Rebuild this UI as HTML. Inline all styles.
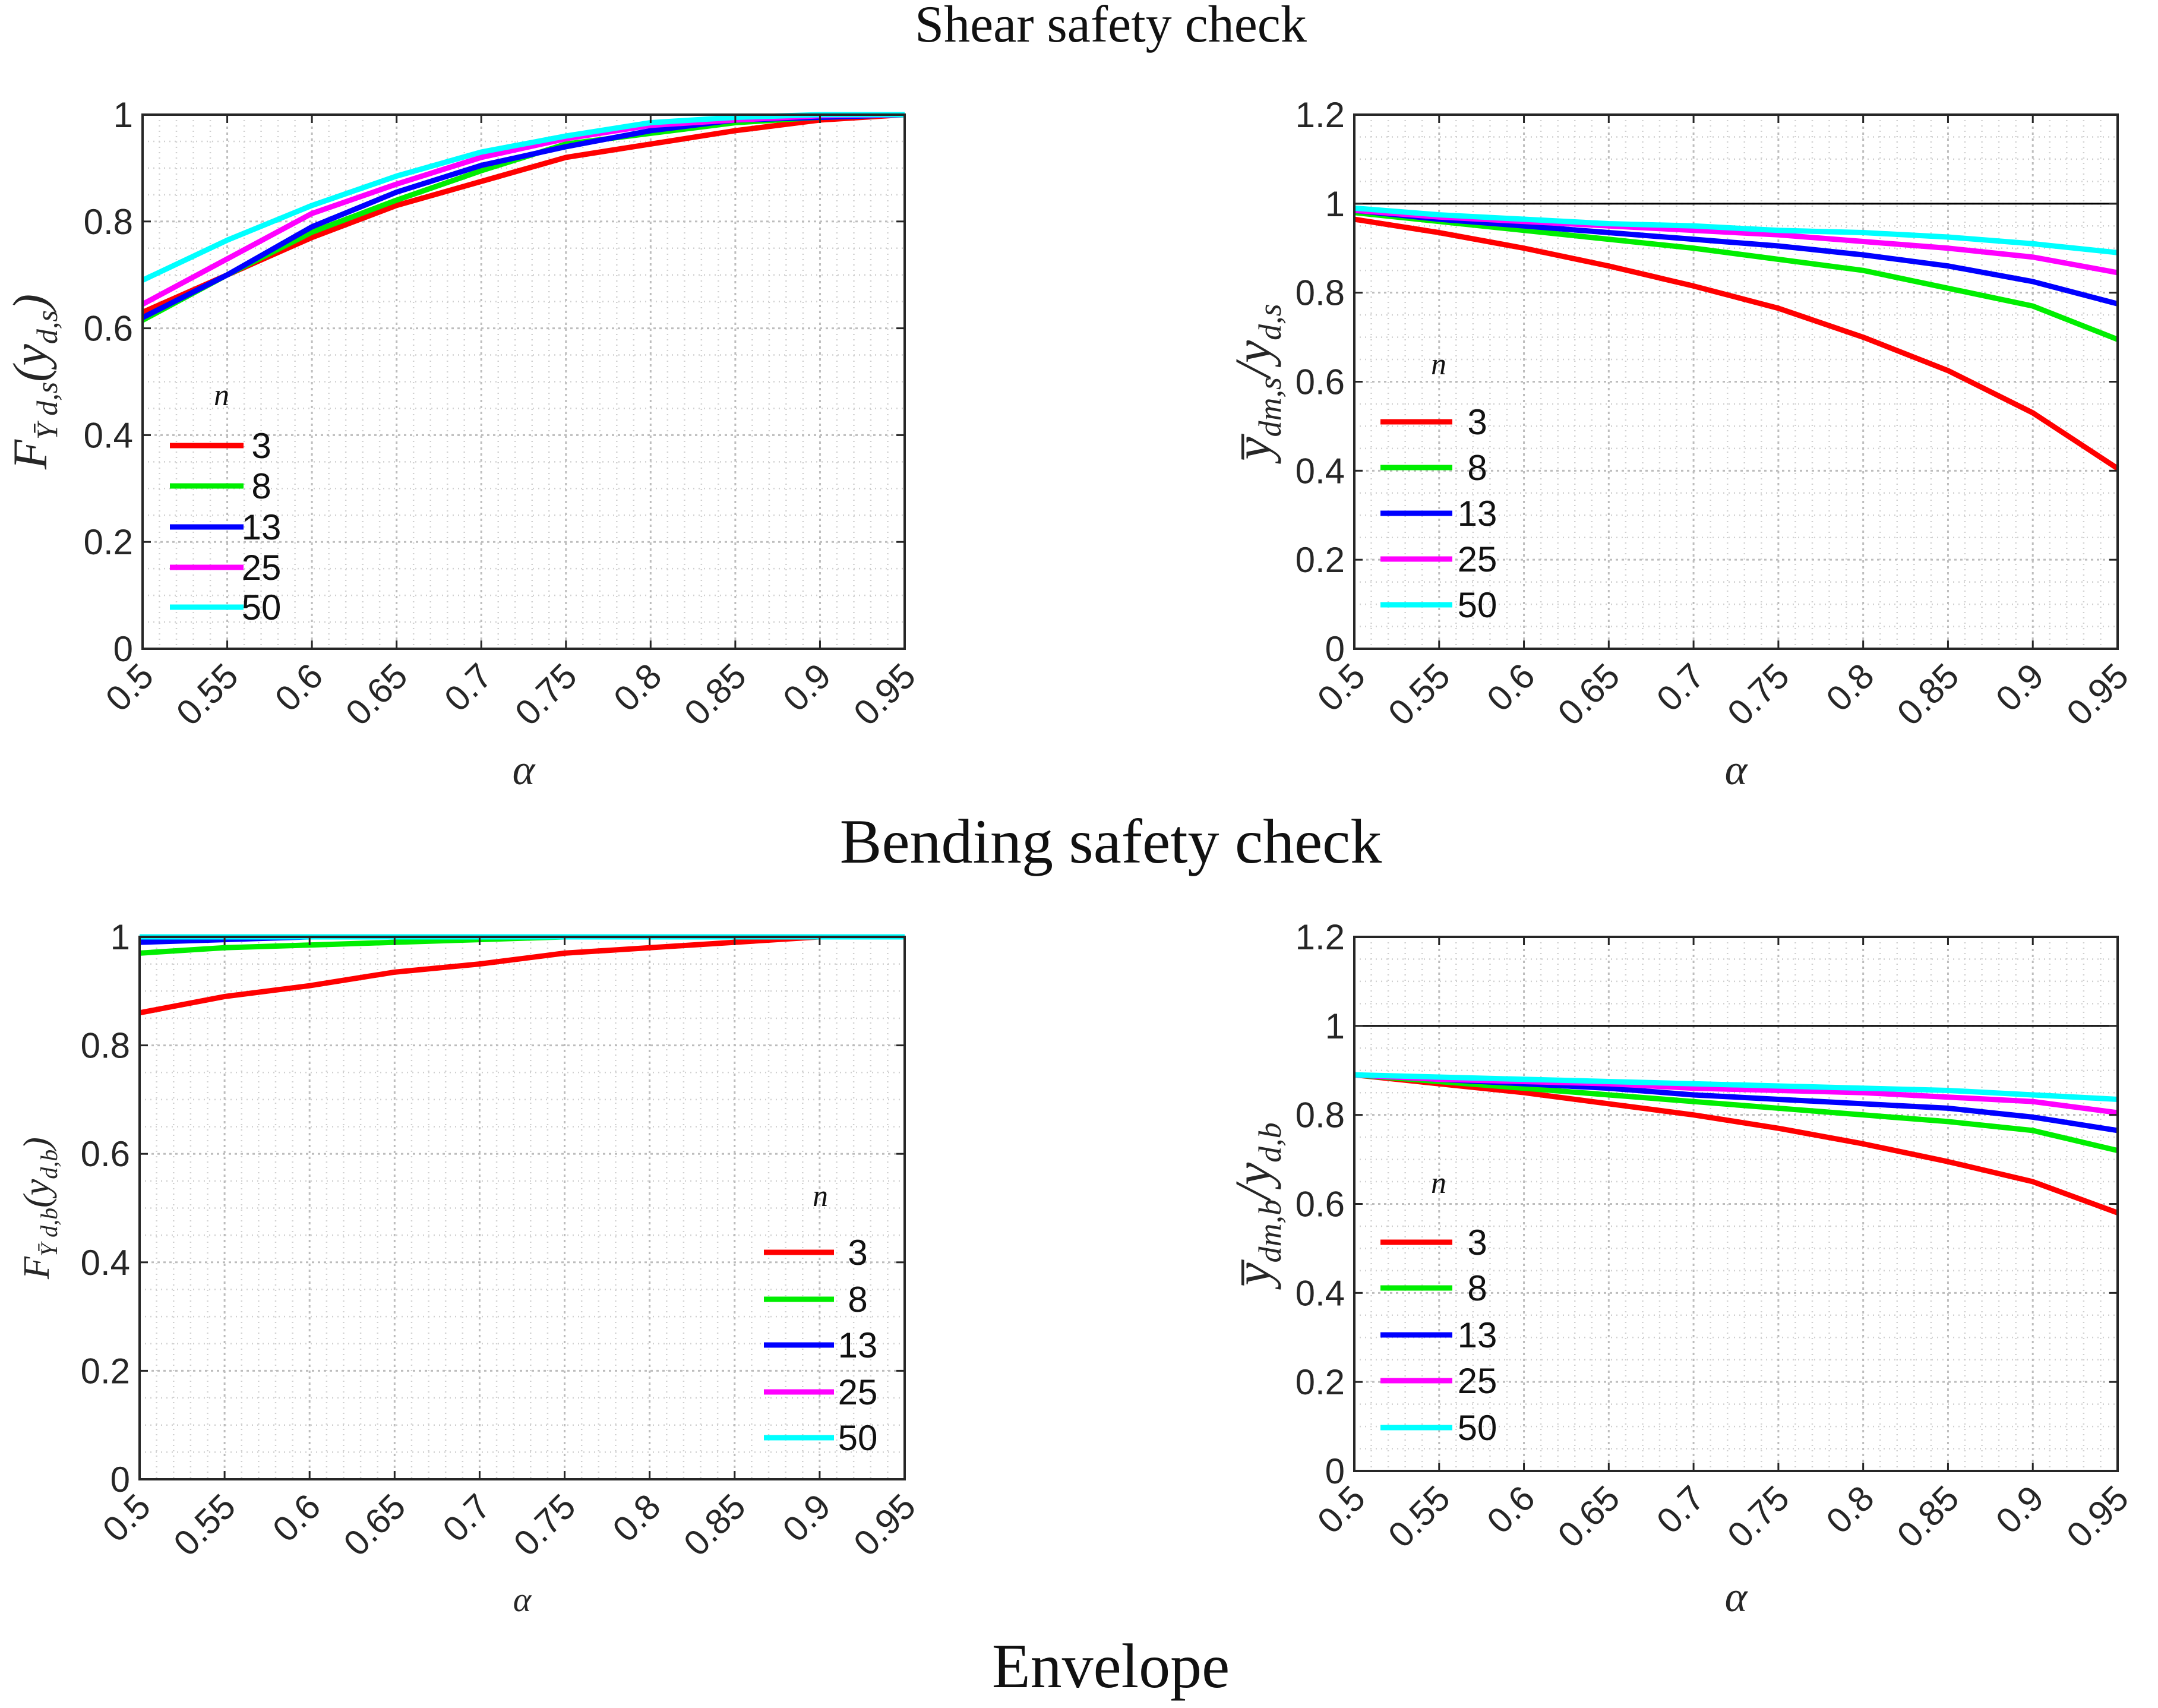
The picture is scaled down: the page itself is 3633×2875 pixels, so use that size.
<!DOCTYPE html>
<html><head><meta charset="utf-8"><style>
html,body{margin:0;padding:0;background:#fff;width:3633px;height:2875px;overflow:hidden}
svg{display:block}
</style></head><body>
<svg id="fig" width="3633" height="2875" viewBox="0 0 3633 2875" xmlns="http://www.w3.org/2000/svg">
<text x="1870" y="70" font-family="Liberation Serif, serif" font-size="88" text-anchor="middle" fill="#111">Shear safety check</text>
<text x="1870" y="1452" font-family="Liberation Serif, serif" font-size="106" text-anchor="middle" fill="#111">Bending safety check</text>
<text x="1870" y="2840" font-family="Liberation Serif, serif" font-size="106" text-anchor="middle" fill="#111">Envelope</text>
</svg>
<script>
const alphaValues = [0.5,0.55,0.6,0.65,0.7,0.75,0.8,0.85,0.9,0.95];
const xTickLabels = ["0.5","0.55","0.6","0.65","0.7","0.75","0.8","0.85","0.9","0.95"];
const seriesNames = ["3","8","13","25","50"];
const seriesColors = ["#ff0000","#00ee00","#0000ff","#ff00ff","#00ffff"];

const shearCdfN3  = [0.63,0.70,0.77,0.83,0.875,0.92,0.945,0.97,0.99,1.0];
const shearCdfN8  = [0.615,0.70,0.78,0.84,0.895,0.945,0.965,0.985,0.995,1.0];
const shearCdfN13 = [0.62,0.70,0.79,0.855,0.905,0.94,0.97,0.99,0.995,1.0];
const shearCdfN25 = [0.645,0.73,0.815,0.87,0.92,0.955,0.98,0.99,0.998,1.0];
const shearCdfN50 = [0.69,0.765,0.83,0.885,0.93,0.96,0.985,0.995,1.0,1.0];

const shearRatioN3  = [0.965,0.935,0.90,0.86,0.815,0.765,0.70,0.625,0.53,0.405];
const shearRatioN8  = [0.98,0.96,0.94,0.92,0.90,0.875,0.85,0.81,0.77,0.695];
const shearRatioN13 = [0.985,0.965,0.95,0.935,0.92,0.905,0.885,0.86,0.825,0.775];
const shearRatioN25 = [0.985,0.97,0.96,0.95,0.94,0.93,0.915,0.90,0.88,0.845];
const shearRatioN50 = [0.99,0.975,0.965,0.955,0.95,0.94,0.935,0.925,0.91,0.89];

const bendCdfN3  = [0.86,0.89,0.91,0.935,0.95,0.97,0.98,0.99,1.0,1.0];
const bendCdfN8  = [0.97,0.98,0.985,0.99,0.995,1.0,1.0,1.0,1.0,1.0];
const bendCdfN13 = [0.99,0.995,1.0,1.0,1.0,1.0,1.0,1.0,1.0,1.0];
const bendCdfN25 = [1.0,1.0,1.0,1.0,1.0,1.0,1.0,1.0,1.0,1.0];
const bendCdfN50 = [1.0,1.0,1.0,1.0,1.0,1.0,1.0,1.0,1.0,1.0];

const bendRatioN3  = [0.89,0.87,0.85,0.825,0.80,0.77,0.735,0.695,0.65,0.58];
const bendRatioN8  = [0.89,0.875,0.86,0.845,0.83,0.815,0.80,0.785,0.765,0.72];
const bendRatioN13 = [0.89,0.88,0.87,0.86,0.845,0.835,0.825,0.815,0.795,0.765];
const bendRatioN25 = [0.89,0.88,0.875,0.87,0.86,0.855,0.85,0.84,0.83,0.805];
const bendRatioN50 = [0.89,0.885,0.88,0.875,0.87,0.865,0.86,0.855,0.845,0.835];

const yTicks1 = ["0","0.2","0.4","0.6","0.8","1"];
const yTicks12 = ["0","0.2","0.4","0.6","0.8","1","1.2"];

const NS="http://www.w3.org/2000/svg";
const svg=document.getElementById('fig');
function mk(tag,attrs,parent){const e=document.createElementNS(NS,tag);for(const k in attrs)e.setAttribute(k,attrs[k]);(parent||svg).appendChild(e);return e;}

function panel(cfg){
  const g=mk('g',{});
  
  
  const L=cfg.L,R=cfg.R,T=cfg.T,B=cfg.B,ymax=cfg.ymax;
  const xs=v=>L+(v-0.5)/(0.45)*(R-L);
  const ys=v=>B-v/ymax*(B-T);
  for(let i=1;i<45;i++){ if(i%5===0)continue; const v=0.5+i*0.01;
    mk('line',{x1:xs(v),x2:xs(v),y1:T,y2:B,stroke:'#d0d0d0','stroke-width':2.5,'stroke-dasharray':'2 7'},g);}
  for(let v=0.05;v<ymax-0.001;v+=0.05){ if(Math.abs(v/0.2-Math.round(v/0.2))<0.01)continue;
    mk('line',{x1:L,x2:R,y1:ys(v),y2:ys(v),stroke:'#d0d0d0','stroke-width':2.5,'stroke-dasharray':'2 7'},g);}
  alphaValues.forEach(v=>mk('line',{x1:xs(v),x2:xs(v),y1:T,y2:B,stroke:'#bdbdbd','stroke-width':3,'stroke-dasharray':'4 6'},g));
  cfg.yt.forEach(t=>{const v=parseFloat(t);mk('line',{x1:L,x2:R,y1:ys(v),y2:ys(v),stroke:'#bdbdbd','stroke-width':3,'stroke-dasharray':'4 6'},g);});
  if(cfg.refLine){const r=mk('line',{x1:L,x2:R,y1:ys(1),y2:ys(1),stroke:'#000','stroke-width':3},g);
    
    }
  cfg.series.forEach((arr,i)=>{
    const p=mk('polyline',{points:arr.map((v,j)=>xs(alphaValues[j])+','+ys(v)).join(' '),fill:'none',stroke:seriesColors[i],'stroke-width':9,'stroke-linejoin':'round'},g);
    
    
  });
  mk('rect',{x:L,y:T,width:R-L,height:B-T,fill:'none',stroke:'#262626','stroke-width':4},g);
  alphaValues.forEach((v,i)=>{
    mk('line',{x1:xs(v),x2:xs(v),y1:B,y2:B-14,stroke:'#262626','stroke-width':3},g);
    mk('line',{x1:xs(v),x2:xs(v),y1:T,y2:T+14,stroke:'#262626','stroke-width':3},g);
    const ax=xs(v)+22, ay=B+50;
    const t=mk('text',{x:ax,y:ay,'font-family':'Liberation Sans, sans-serif','font-size':60,'text-anchor':'end',fill:'#262626',transform:`rotate(-45 ${ax} ${ay})`},g);
    t.textContent=xTickLabels[i];
    
    
  });
  cfg.yt.forEach(s=>{const v=parseFloat(s);
    mk('line',{x1:L,x2:L+14,y1:ys(v),y2:ys(v),stroke:'#262626','stroke-width':3},g);
    mk('line',{x1:R,x2:R-14,y1:ys(v),y2:ys(v),stroke:'#262626','stroke-width':3},g);
    const t=mk('text',{x:L-16,y:ys(v)+21,'font-family':'Liberation Sans, sans-serif','font-size':60,'text-anchor':'end',fill:'#262626'},g);
    t.textContent=s;
    
    
  });
  const xl=mk('text',{x:(L+R)/2,y:cfg.xlY,'font-family':'Liberation Serif, serif','font-style':'italic','font-size':cfg.xlSize,'text-anchor':'middle',fill:'#262626'},g);
  xl.textContent='α';
  
  
  const yl=mk('text',{x:cfg.ylX,y:(T+B)/2,'font-family':'Liberation Serif, serif','font-style':'italic','font-size':cfg.ylSize,'text-anchor':'middle',fill:'#262626',transform:`rotate(-90 ${cfg.ylX} ${(T+B)/2})`},g);
  yl.innerHTML=cfg.ylab;
  
  
  const lg=mk('g',{},g);
  
  
  const nt=mk('text',{x:cfg.lg.nx,y:cfg.lg.ny,'font-family':'Liberation Serif, serif','font-style':'italic','font-size':52,'text-anchor':'middle',fill:'#111'},lg);
  nt.textContent='n';
  
  
  seriesNames.forEach((n,i)=>{
    const y=cfg.lg.rows[i];
    const e=mk('g',{},lg);
    
    
    mk('line',{x1:cfg.lg.x1,x2:cfg.lg.x2,y1:y,y2:y,stroke:seriesColors[i],'stroke-width':9},e);
    const t=mk('text',{x:cfg.lg.tx,y:y+21,'font-family':'Liberation Sans, sans-serif','font-size':60,'text-anchor':'middle',fill:'#111'},e);
    t.textContent=n;
  });
}

panel({name:'shear-cdf-panel',L:240,R:1523,T:193,B:1092,ymax:1,yt:yTicks1,
  series:[shearCdfN3,shearCdfN8,shearCdfN13,shearCdfN25,shearCdfN50],
  xlY:1320,xlSize:72,ylX:78,ylSize:82,
  ylab:'F<tspan font-size="50" dy="18">Ȳ d,s</tspan><tspan dy="-18">(y</tspan><tspan font-size="50" dy="18">d,s</tspan><tspan dy="-18">)</tspan>',
  lg:{nx:373,ny:682,x1:286,x2:410,tx:440,rows:[750,818,887,955,1022]}});
panel({name:'shear-ratio-panel',L:2280,R:3565,T:193,B:1092,ymax:1.2,yt:yTicks12,refLine:true,
  series:[shearRatioN3,shearRatioN8,shearRatioN13,shearRatioN25,shearRatioN50],
  xlY:1320,xlSize:72,ylX:2138,ylSize:86,
  ylab:'y̅<tspan font-size="54" dy="18">dm,s</tspan><tspan dy="-18">/y</tspan><tspan font-size="54" dy="18">d,s</tspan>',
  lg:{nx:2422,ny:630,x1:2324,x2:2445,tx:2487,rows:[710,787,864,941,1018]}});
panel({name:'bending-cdf-panel',L:235,R:1523,T:1577,B:2490,ymax:1,yt:yTicks1,
  series:[bendCdfN3,bendCdfN8,bendCdfN13,bendCdfN25,bendCdfN50],
  xlY:2712,xlSize:58,ylX:82,ylSize:62,
  ylab:'F<tspan font-size="40" dy="14">Ȳ d,b</tspan><tspan dy="-14">(y</tspan><tspan font-size="40" dy="14">d,b</tspan><tspan dy="-14">)</tspan>',
  lg:{nx:1381,ny:2030,x1:1286,x2:1404,tx:1444,rows:[2108,2187,2264,2343,2420]}});
panel({name:'bending-ratio-panel',L:2280,R:3565,T:1577,B:2476,ymax:1.2,yt:yTicks12,refLine:true,
  series:[bendRatioN3,bendRatioN8,bendRatioN13,bendRatioN25,bendRatioN50],
  xlY:2712,xlSize:72,ylX:2138,ylSize:86,
  ylab:'y̅<tspan font-size="54" dy="18">dm,b</tspan><tspan dy="-18">/y</tspan><tspan font-size="54" dy="18">d,b</tspan>',
  lg:{nx:2422,ny:2008,x1:2324,x2:2445,tx:2487,rows:[2091,2168,2247,2324,2403]}});
</script>
</body></html>
